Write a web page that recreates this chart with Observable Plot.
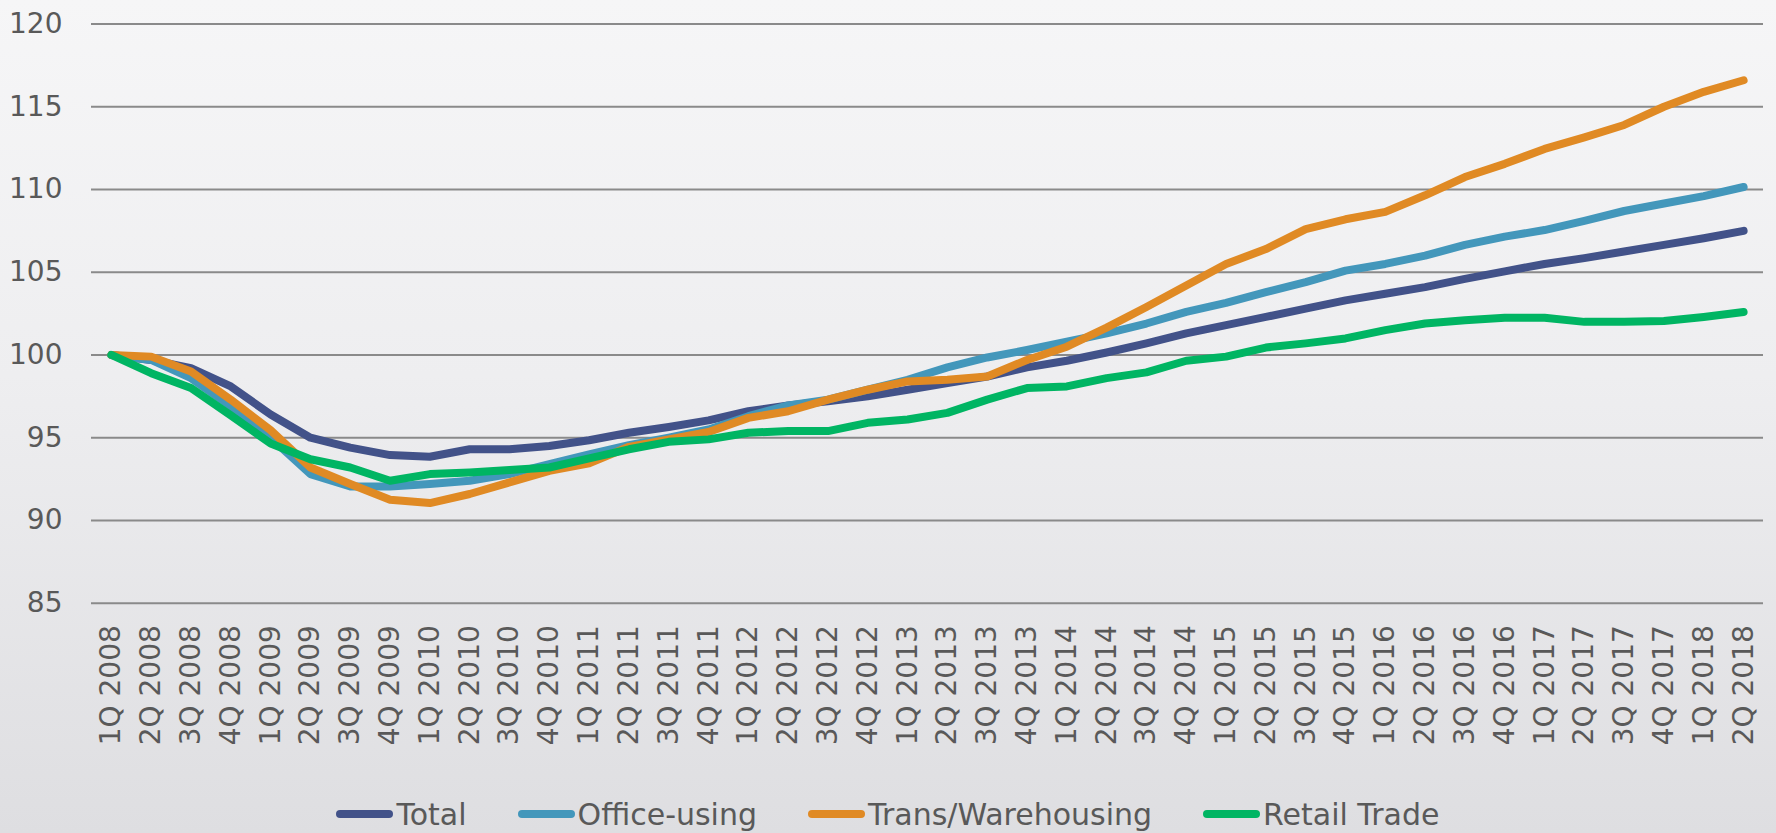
<!DOCTYPE html>
<html>
<head>
<meta charset="utf-8">
<script src="https://cdn.jsdelivr.net/npm/d3@7"></script>
<script src="https://cdn.jsdelivr.net/npm/@observablehq/plot@0.6"></script>
<style>
  html, body { margin: 0; padding: 0; }
  body {
    width: 1776px; height: 833px; overflow: hidden;
    background: linear-gradient(180deg, #f6f6f7 0%, #eeeef0 45%, #dedee1 100%);
    font-family: "DejaVu Sans", sans-serif; color: #595959;
  }
  #chart svg { display: block; }
  #legend {
    height: 48px; display: flex; justify-content: center; align-items: center;
    gap: 51px; font-size: 30px; color: #595959;
  }
  .item { display: flex; align-items: center; }
  .sw { width: 57px; height: 8px; border-radius: 4px; margin-right: 3px; }
</style>
</head>
<body>
<div id="chart"></div>
<div id="legend"></div>
<script>
const quarters = [
  "1Q 2008","2Q 2008","3Q 2008","4Q 2008",
  "1Q 2009","2Q 2009","3Q 2009","4Q 2009",
  "1Q 2010","2Q 2010","3Q 2010","4Q 2010",
  "1Q 2011","2Q 2011","3Q 2011","4Q 2011",
  "1Q 2012","2Q 2012","3Q 2012","4Q 2012",
  "1Q 2013","2Q 2013","3Q 2013","4Q 2013",
  "1Q 2014","2Q 2014","3Q 2014","4Q 2014",
  "1Q 2015","2Q 2015","3Q 2015","4Q 2015",
  "1Q 2016","2Q 2016","3Q 2016","4Q 2016",
  "1Q 2017","2Q 2017","3Q 2017","4Q 2017",
  "1Q 2018","2Q 2018"
];
const seriesNames = ["Total", "Office-using", "Trans/Warehousing", "Retail Trade"];
const seriesColors = ["#425289", "#4397bb", "#e08a24", "#00b563"];
const yTicks = [85, 90, 95, 100, 105, 110, 115, 120];

const total = [100, 99.7, 99.2, 98.1, 96.4, 95.0, 94.4, 93.95, 93.85, 94.3, 94.3, 94.5,
  94.85, 95.3, 95.65, 96.05, 96.6, 96.95, 97.2, 97.5, 97.9, 98.3, 98.7, 99.25,
  99.65, 100.15, 100.7, 101.3, 101.8, 102.3, 102.8, 103.3, 103.7, 104.1, 104.6, 105.05,
  105.5, 105.85, 106.25, 106.65, 107.05, 107.5];
const officeUsing = [100, 99.7, 98.6, 96.9, 95.0, 92.8, 92.05, 92.05, 92.2, 92.4, 92.8, 93.4,
  94.0, 94.55, 95.0, 95.5, 96.3, 96.95, 97.3, 97.9, 98.5, 99.25, 99.85, 100.3,
  100.8, 101.3, 101.9, 102.6, 103.15, 103.8, 104.4, 105.1, 105.5, 106.0, 106.65, 107.15,
  107.55, 108.1, 108.7, 109.15, 109.6, 110.15];
const transWarehousing = [100, 99.9, 99.0, 97.3, 95.45, 93.2, 92.2, 91.25, 91.05, 91.6, 92.3, 93.0,
  93.45, 94.45, 94.9, 95.35, 96.2, 96.6, 97.3, 97.9, 98.4, 98.5, 98.7, 99.7,
  100.5, 101.65, 102.9, 104.2, 105.5, 106.4, 107.6, 108.2, 108.65, 109.65, 110.75, 111.55,
  112.45, 113.15, 113.9, 115.0, 115.9, 116.6];
const retailTrade = [100, 98.9, 98.0, 96.35, 94.65, 93.7, 93.2, 92.4, 92.8, 92.9, 93.05, 93.2,
  93.75, 94.3, 94.75, 94.9, 95.3, 95.4, 95.4, 95.9, 96.1, 96.5, 97.3, 98.0,
  98.1, 98.6, 98.95, 99.65, 99.9, 100.45, 100.7, 101.0, 101.5, 101.9, 102.1, 102.25,
  102.25, 102.0, 102.0, 102.05, 102.3, 102.6];

const seriesValues = [total, officeUsing, transWarehousing, retailTrade];
const rows = [];
seriesNames.forEach((s, si) => {
  seriesValues[si].forEach((v, i) => rows.push({q: quarters[i], v, s}));
});

const H = 790;
const chart = Plot.plot({
  width: 1776,
  height: H,
  marginLeft: 91,
  marginRight: 13,
  marginTop: 23.5,
  marginBottom: H - 602.7,
  style: {background: "transparent", fontFamily: "'DejaVu Sans', sans-serif", fontSize: "28px", color: "#595959", overflow: "visible"},
  x: {type: "point", domain: quarters, padding: 0.5, label: null},
  y: {domain: [85, 120], label: null},
  color: {domain: seriesNames, range: seriesColors},
  marks: [
    Plot.ruleY(yTicks, {stroke: "#8a8a8a", strokeWidth: 2}),
    Plot.axisY({ticks: yTicks, tickSize: 0, tickPadding: 29, label: null}),
    Plot.axisX({tickSize: 0, tickPadding: 22, tickRotate: -90, label: null}),
    Plot.line(rows, {x: "q", y: "v", z: "s", stroke: "s", strokeWidth: 8,
      strokeLinecap: "round", strokeLinejoin: "round"})
  ]
});
document.getElementById("chart").appendChild(chart);

const legend = document.getElementById("legend");
seriesNames.forEach((s, i) => {
  const item = document.createElement("div");
  item.className = "item";
  const sw = document.createElement("span");
  sw.className = "sw";
  sw.style.background = seriesColors[i];
  const t = document.createElement("span");
  t.textContent = s;
  item.appendChild(sw);
  item.appendChild(t);
  legend.appendChild(item);
});
</script>
</body>
</html>
